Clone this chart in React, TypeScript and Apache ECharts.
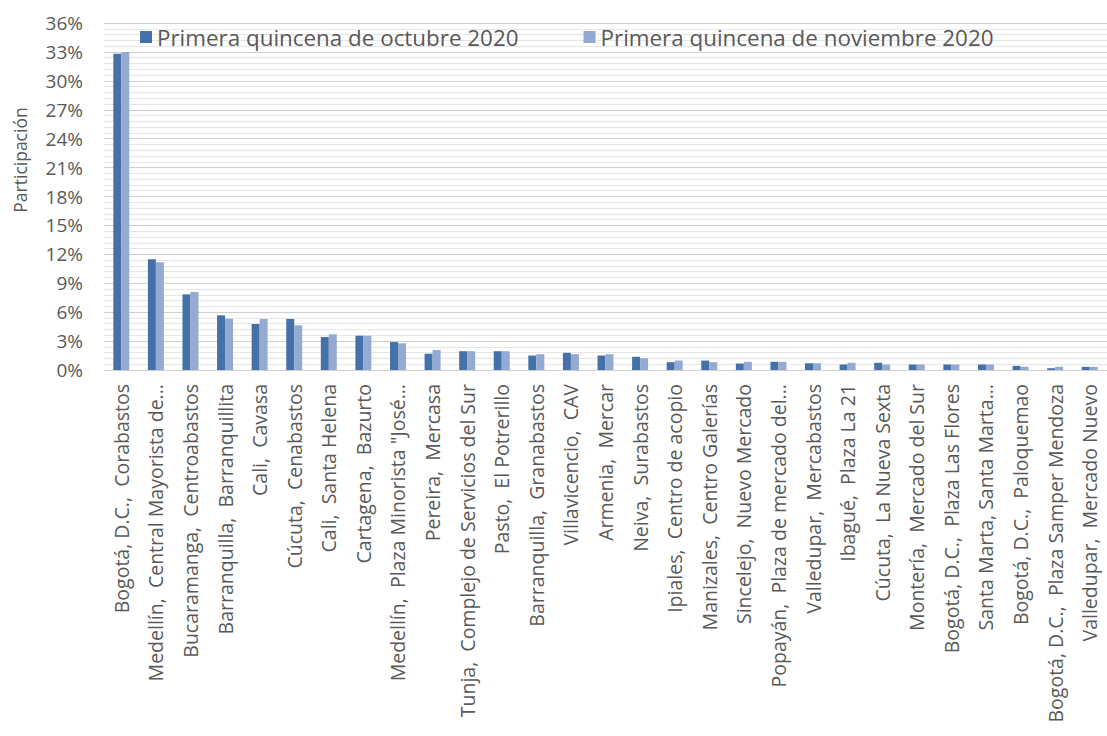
import React, { useEffect, useRef } from "react";
import * as echarts from "echarts";

const categories = [
  "Bogotá, D.C.,  Corabastos",
  "Medellín,  Central Mayorista de...",
  "Bucaramanga,  Centroabastos",
  "Barranquilla,  Barranquillita",
  "Cali,  Cavasa",
  "Cúcuta,  Cenabastos",
  "Cali,  Santa Helena",
  "Cartagena,  Bazurto",
  "Medellín,  Plaza Minorista \"José...",
  "Pereira,  Mercasa",
  "Tunja,  Complejo de Servicios del Sur",
  "Pasto,  El Potrerillo",
  "Barranquilla,  Granabastos",
  "Villavicencio,  CAV",
  "Armenia,  Mercar",
  "Neiva,  Surabastos",
  "Ipiales,  Centro de acopio",
  "Manizales,  Centro Galerías",
  "Sincelejo,  Nuevo Mercado",
  "Popayán,  Plaza de mercado del...",
  "Valledupar,  Mercabastos",
  "Ibagué,  Plaza La 21",
  "Cúcuta,  La Nueva Sexta",
  "Montería,  Mercado del Sur",
  "Bogotá, D.C.,  Plaza Las Flores",
  "Santa Marta, Santa Marta...",
  "Bogotá, D.C.,  Paloquemao",
  "Bogotá, D.C.,  Plaza Samper Mendoza",
  "Valledupar,  Mercado Nuevo",
];

const seriesNames = [
  "Primera quincena de octubre 2020",
  "Primera quincena de noviembre 2020",
];

const octubre = [
  32.8, 11.5, 7.85, 5.67, 4.77, 5.29, 3.42, 3.56, 2.9, 1.69, 1.95, 1.95, 1.5,
  1.78, 1.5, 1.37, 0.81, 0.98, 0.67, 0.85, 0.7, 0.57, 0.75, 0.57, 0.57, 0.57,
  0.43, 0.18, 0.33,
];

const noviembre = [
  33.0, 11.17, 8.09, 5.32, 5.29, 4.64, 3.7, 3.56, 2.77, 2.07, 1.95, 1.95, 1.64,
  1.64, 1.64, 1.22, 0.98, 0.81, 0.85, 0.85, 0.7, 0.75, 0.57, 0.57, 0.57, 0.57,
  0.33, 0.33, 0.33,
];

const yTitle = "Participación";

const FONT = "Open Sans";
const TEXT = "#595959";
const DARK = "#4472a8";
const LIGHT = "#95aad3";

export default function App() {
  const ref = useRef<HTMLDivElement>(null);

  useEffect(() => {
    document.body.style.margin = "0";
    const chart = echarts.init(ref.current!, null, { renderer: "svg" });
    chart.setOption({
      animation: false,
      backgroundColor: "#ffffff",
      legend: {
        left: 135,
        top: 21,
        itemWidth: 12,
        itemHeight: 12,
        itemGap: 65,
        icon: "rect",
        textStyle: { fontSize: 22.4, color: TEXT, fontFamily: FONT },
        data: seriesNames,
      },
      grid: { left: 104, top: 23, width: 1009, bottom: 366 },
      graphic: [
        {
          type: "text",
          x: 20,
          y: 160,
          rotation: Math.PI / 2,
          style: {
            text: yTitle,
            fill: TEXT,
            fontSize: 17.5,
            fontFamily: FONT,
            align: "center",
            verticalAlign: "middle",
          },
        },
      ],
      xAxis: {
        type: "category",
        data: categories,
        axisLine: { show: true, lineStyle: { color: "#d0d0d0", width: 1 } },
        axisTick: { show: false },
        axisLabel: {
          rotate: 90,
          interval: 0,
          margin: 14,
          fontSize: 19.5,
          fontFamily: FONT,
          color: TEXT,
        },
      },
      yAxis: {
        type: "value",
        min: 0,
        max: 36,
        interval: 3,
        axisLine: { show: false },
        axisTick: { show: false },
        axisLabel: {
          margin: 21,
          formatter: "{value}%",
          fontSize: 19,
          fontFamily: FONT,
          color: TEXT,
        },
        splitLine: { show: true, lineStyle: { color: "#cfcfcf", width: 1 } },
        minorTick: { show: false, splitNumber: 5 },
        minorSplitLine: { show: true, lineStyle: { color: "#e6e6e6", width: 1 } },
      },
      series: [
        {
          name: seriesNames[0],
          type: "bar",
          data: octubre,
          barWidth: 8,
          barGap: "0%",
          itemStyle: { color: DARK },
        },
        {
          name: seriesNames[1],
          type: "bar",
          data: noviembre,
          barWidth: 8,
          barGap: "0%",
          itemStyle: { color: LIGHT },
        },
      ],
    });
    return () => chart.dispose();
  }, []);

  return <div ref={ref} style={{ width: 1107, height: 736 }} />;
}
